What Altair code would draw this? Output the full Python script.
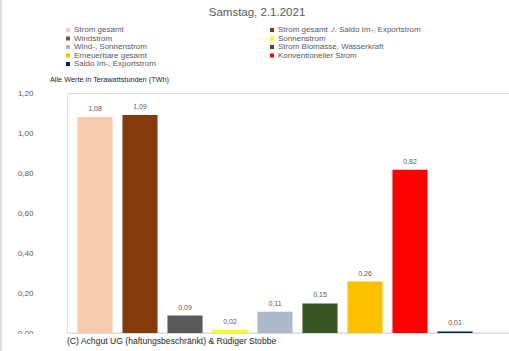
import altair as alt
import pandas as pd

categories = [
    "Strom gesamt",
    "Strom gesamt ./. Saldo Im-, Exportstrom",
    "Windstrom",
    "Sonnenstrom",
    "Wind-, Sonnenstrom",
    "Strom Biomasse, Wasserkraft",
    "Erneuerbare gesamt",
    "Konventioneller Strom",
    "Saldo Im-, Exportstrom",
]
values = [1.08, 1.09, 0.087, 0.016, 0.106, 0.148, 0.257, 0.816, 0.008]
colors = ["#F8CBAD", "#843C0C", "#595959", "#FFFF00", "#ADB9CA",
          "#375623", "#FFC000", "#FF0000", "#002060"]
y_ticks = [0, 0.2, 0.4, 0.6, 0.8, 1.0, 1.2]

# legend is filled column by column: left column first, then right column
legend_order = [0, 2, 4, 6, 8, 1, 3, 5, 7]
legend_domain = [categories[i] for i in legend_order]
legend_range = [colors[i] for i in legend_order]

title_text = "Samstag, 2.1.2021"
unit_text = "Alle Werte in Terawattstunden (TWh)"
copyright_text = "(C) Achgut UG (haftungsbeschränkt) & Rüdiger Stobbe"

FONT = "Liberation Sans"
GRAY = "#595959"

df = pd.DataFrame({"cat": categories, "val": values})

xenc = alt.X("cat:N", sort=categories, axis=None,
             scale=alt.Scale(range=[5.5, 410.5], paddingInner=0.22, paddingOuter=0.11))

bars = alt.Chart(df).mark_bar().encode(
    x=xenc,
    y=alt.Y("val:Q", scale=alt.Scale(domain=[0, 1.2], nice=False),
            axis=alt.Axis(values=y_ticks, title=None, domain=False, ticks=False,
                          labelOverlap=False, tickCount=7,
                          labelExpr="replace(format(datum.value, '.2f'), '.', ',')",
                          labelFont=FONT, labelFontSize=8, labelColor=GRAY,
                          labelPadding=34, gridColor="#D9D9D9", gridWidth=1)),
    color=alt.Color("cat:N",
                    scale=alt.Scale(domain=legend_domain, range=legend_range),
                    legend=alt.Legend(title=None, orient="none", legendX=-3, legendY=-67,
                                      columns=2, columnPadding=112, rowPadding=0.5,
                                      symbolType="square", symbolSize=16,
                                      symbolStrokeWidth=0, labelOffset=2,
                                      labelFont=FONT, labelFontSize=8,
                                      labelColor=GRAY, labelLimit=400)),
)

labels = alt.Chart(df).transform_calculate(
    lab="replace(format(datum.val, '.2f'), '.', ',')"
).mark_text(dy=-8, font=FONT, fontSize=7, color=GRAY).encode(
    x=xenc, y=alt.Y("val:Q"), text="lab:N"
)

base = alt.Chart(pd.DataFrame({"z": [0]}))
baseline = base.mark_rule(color="#D9D9D9").encode(y=alt.datum(0))
cover = base.mark_rect(color="white").encode(
    x=alt.value(-60), x2=alt.value(233), y=alt.value(241), y2=alt.value(262))
copyright = base.mark_text(align="left", baseline="middle", font=FONT, fontSize=8.6,
                           color="#262626").encode(
    x=alt.value(0), y=alt.value(248), text=alt.value(copyright_text))
unit = base.mark_text(align="left", baseline="middle", font=FONT, fontSize=7.3,
                      color="#262626").encode(
    x=alt.value(-17), y=alt.value(-13), text=alt.value(unit_text))
title = base.mark_text(align="center", baseline="middle", font=FONT, fontSize=11.5,
                       color=GRAY).encode(
    x=alt.value(190), y=alt.value(-80), text=alt.value(title_text))
border = base.mark_rule(color="#BFBFBF").encode(
    x=alt.value(-66), y=alt.value(-93), y2=alt.value(258))

chart = alt.layer(baseline, bars, labels, cover, copyright, unit, title, border).properties(
    width=442, height=240,
    autosize=alt.AutoSizeParams(type="none"),
    padding={"left": 67, "top": 93, "right": 0, "bottom": 18},
).configure_view(stroke=None).configure(background="white")

chart.save("out.html", embed_options={"renderer": "svg", "actions": False})
